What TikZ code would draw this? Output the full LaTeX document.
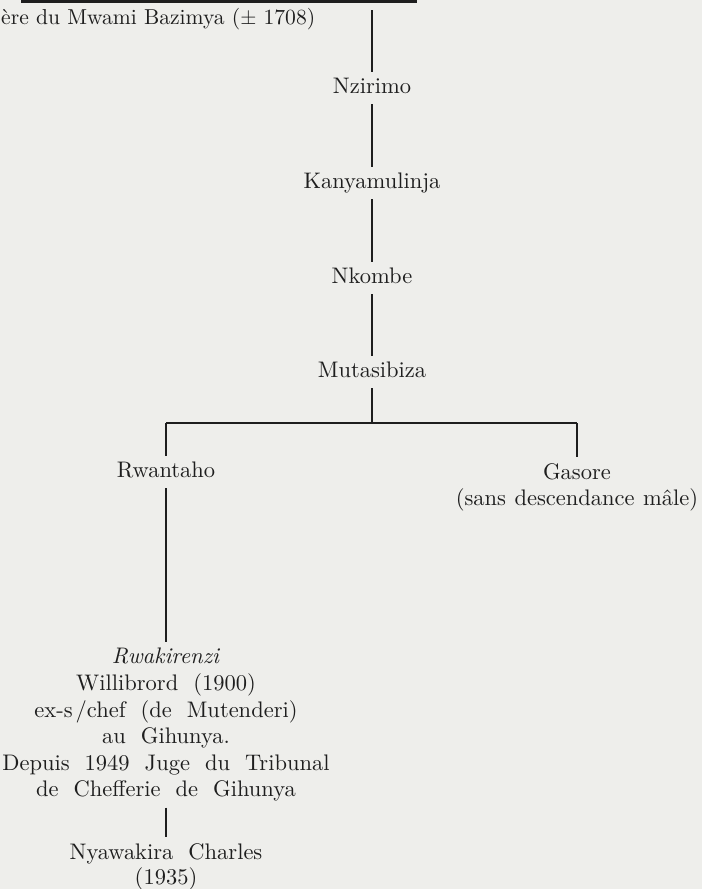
\documentclass[tikz,border=0pt]{standalone}
\usepackage{fontspec}
\setmainfont{lmroman10}[Extension=.otf, UprightFont=*-regular, ItalicFont=*-italic, BoldFont=*-bold]
\definecolor{paper}{RGB}{238,238,235}
\definecolor{ink}{RGB}{30,30,30}
% a line of text set with a chosen interword space
\newcommand\spaced[2]{{\spaceskip=#1pt\relax #2}}
\newcommand\thinsp{{\spaceskip=3pt\relax\ }}
\tikzset{
  person/.style={inner xsep=2pt, inner ysep=6pt, text height=15.5pt, text depth=4.5pt, text=ink},
  block/.style={inner xsep=2pt, inner ysep=6pt, align=center, text=ink},
  link/.style={draw=ink, line width=1.3pt},
}
\begin{document}
\begin{tikzpicture}[x=1pt, y=-1pt, font=\fontsize{22.5}{26.6}\selectfont]
  \fill[paper] (0,0) rectangle (702,889);
  \useasboundingbox (0,0) rectangle (702,889);

  % heading rule and founder line
  \coordinate (topL) at (21,1.3);
  \coordinate (topR) at (417,1.3);
  \draw[draw=ink, line width=2.6pt] (topL) -- (topR);
  \node[anchor=base west, inner sep=0pt, text=ink, font=\fontsize{21.6}{26}\selectfont] (founder) at (1,24)
    {ère du Mwami Bazimya ($\pm$ 1708)};
  \coordinate (root) at (372,10);

  % main line of descent
  \node[person] (nzirimo) at (372,88) {Nzirimo};
  \node[person] (kanya)   at (372,183) {Kanyamulinja};
  \node[person] (nkombe)  at (372,278) {Nkombe};
  \node[person] (muta)    at (372,372) {Mutasibiza};

  \draw[link] (root) -- (nzirimo.north);
  \draw[link] (nzirimo) -- (kanya);
  \draw[link] (kanya) -- (nkombe);
  \draw[link] (nkombe) -- (muta);

  % sons of Mutasibiza
  \coordinate (barL) at (166,423);
  \coordinate (barR) at (577,423);
  \node[person] (rwantaho) at (166,472) {Rwantaho};
  \node[block, anchor=north] (gasore) at (577,457)
    {Gasore\\\spaced{8.5}{(sans descendance mâle)}};

  \draw[link] (muta.south) -- (muta.south |- barL);
  \draw[link] (barL) -- (barR);
  \draw[link] (barL) -- (rwantaho.north);
  \draw[link] (barR) -- (gasore.north);

  % line of Rwantaho
  \node[block, anchor=north] (rwaki) at (166,642)
    {\textit{Rwakirenzi}\\
     \spaced{15}{Willibrord (1900)}\\
     \spaced{15}{ex-s\thinsp/chef (de Mutenderi)}\\
     \spaced{15}{au Gihunya.}\\
     \spaced{15}{Depuis 1949 Juge du Tribunal}\\
     \spaced{15}{de Chefferie de Gihunya}};
  \node[block, anchor=north, font=\fontsize{22.5}{25}\selectfont] (nyawa) at (166,837)
    {\spaced{15}{Nyawakira Charles}\\(1935)};

  \draw[link] (rwantaho) -- (rwaki);
  \draw[link] (rwaki) -- (nyawa);
\end{tikzpicture}
\end{document}
